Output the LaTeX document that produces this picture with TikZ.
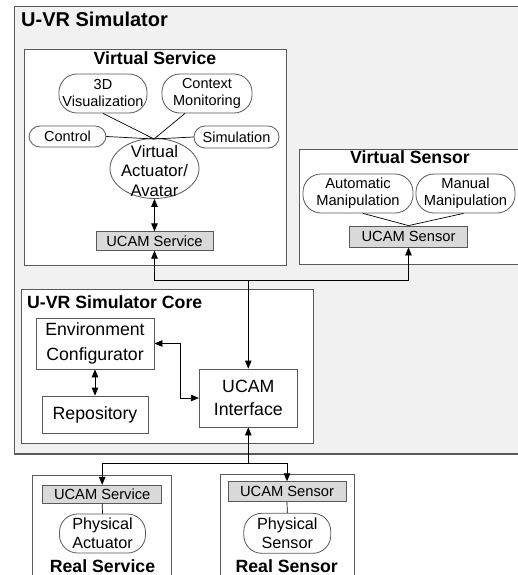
\documentclass[tikz,border=0pt]{standalone}
\usepackage{fontspec}
\setmainfont{Liberation Sans}
\usetikzlibrary{arrows.meta,shapes.geometric}
\definecolor{framec}{HTML}{595959}
\definecolor{panelbg}{HTML}{F1F1F1}
\definecolor{ucamfill}{HTML}{D9D9D9}
\begin{document}
\begin{tikzpicture}[x=1pt,y=-1pt,
  panel/.style={draw=framec, fill=white, line width=0.8pt},
  ucam/.style={draw=framec, fill=ucamfill, line width=0.8pt, inner sep=0pt,
    font=\fontsize{14.7}{17}\selectfont},
  pill/.style={draw=framec, fill=white, line width=0.8pt, inner sep=0pt,
    rounded corners=#1, align=center},
  pill/.default=18pt,
  corebox/.style={draw=framec, fill=white, line width=0.8pt, inner sep=0pt,
    align=center},
  smalltxt/.style={font=\fontsize{14.5}{17}\selectfont},
  heading/.style={font=\bfseries\fontsize{17.7}{20}\selectfont, inner sep=0pt},
  link/.style={black, line width=0.7pt},
  arr/.style={black, line width=0.8pt, -{Triangle[length=8pt,width=6.5pt]}},
  dblarr/.style={black, line width=0.8pt,
    {Triangle[length=8pt,width=6.5pt]}-{Triangle[length=8pt,width=6.5pt]}}]
\useasboundingbox (0,0) rectangle (518,575);
\clip (0,0) rectangle (518,575);

% ---------------- U-VR Simulator frame ----------------
\draw[draw=framec, fill=panelbg, line width=1.2pt] (14.5,6.5) rectangle (545,454);
\node[font=\bfseries\fontsize{20}{22}\selectfont, inner sep=0pt, anchor=base west]
  (simtitle) at (21,27) {U-VR Simulator};

% ---------------- Virtual Service ----------------
\draw[panel] (24,49) rectangle (286,265);
\node[heading, anchor=base] (vservtitle) at (155,65) {Virtual Service};
\node[pill, smalltxt, minimum width=88pt, minimum height=39pt] (vis) at (103,93.5) {3D\\Visualization};
\node[pill, smalltxt, minimum width=90pt, minimum height=39pt] (ctx) at (207,93.5) {Context\\Monitoring};
\node[pill=11pt, smalltxt, minimum width=77pt, minimum height=21pt] (ctrl) at (67.5,136.5) {Control};
\node[pill=11pt, smalltxt, minimum width=85pt, minimum height=22pt] (sim) at (236.5,137) {Simulation};
\node[ellipse, draw=framec, fill=white, line width=0.8pt, inner sep=0pt,
  minimum width=89pt, minimum height=60pt] (act) at (154.5,168.5) {};
\node[font=\fontsize{16.7}{19.5}\selectfont, align=center, inner sep=0pt]
  (acttext) at (154.5,171) {Virtual\\Actuator/\\Avatar};
\coordinate (vsj) at (154,139);
\draw[link] (vis.south) -- (vsj);
\draw[link] ([xshift=-22pt]ctx.south) -- (vsj);
\draw[link] (ctrl.east) -- (vsj);
\draw[link] (sim.west) -- (vsj);
\node[ucam, minimum width=117pt, minimum height=18.5pt] (vucams) at (154.5,241) {UCAM Service};
\draw[dblarr] (act.south) -- (vucams.north);

% ---------------- Virtual Sensor ----------------
\draw[panel] (299,149) rectangle (545,264);
\node[heading, anchor=base] (vsenstitle) at (410,163.3) {Virtual Sensor};
\node[pill, font=\fontsize{14.7}{16.7}\selectfont, minimum width=110pt, minimum height=39pt]
  (auto) at (358,193.5) {Automatic\\Manipulation};
\node[pill, font=\fontsize{14.7}{16.7}\selectfont, minimum width=99pt, minimum height=39pt]
  (manual) at (465.5,193.5) {Manual\\Manipulation};
\node[ucam, minimum width=118pt, minimum height=21pt] (vucamsen) at (408.5,236.5) {UCAM Sensor};
\draw[link] ([xshift=5pt]auto.south) -- (vucamsen.north);
\draw[link] ([xshift=-2pt]manual.south) -- (vucamsen.north);

% ---------------- U-VR Simulator Core ----------------
\draw[panel] (21,289) rectangle (313,443);
\node[heading, anchor=base west] (coretitle) at (27,308.3) {U-VR Simulator Core};
\node[corebox, font=\fontsize{17.7}{25}\selectfont, minimum width=118pt, minimum height=51pt]
  (env) at (95,343.5) {Environment\\Configurator};
\node[corebox, font=\fontsize{17.7}{21}\selectfont, minimum width=106pt, minimum height=37pt]
  (repo) at (95,414.5) {Repository};
\node[corebox, font=\fontsize{17.7}{23}\selectfont, minimum width=98pt, minimum height=58pt]
  (ui) at (248.3,398) {UCAM\\Interface};
\draw[dblarr] (env.south) -- (repo.north);
\draw[dblarr] (env.east) -- ++(26,0) |- (ui.west);

% links between the virtual side and the core
\coordinate (tophub) at (248.3,280);
\draw[arr] (tophub) -- (ui.north);
\draw[arr] (tophub) -| (vucams.south);
\draw[arr] (tophub) -| (vucamsen.south);

% ---------------- Real Service / Real Sensor ----------------
\draw[panel] (32.5,475) rectangle (171.5,590);
\draw[panel] (220,474.5) rectangle (354.5,590);
\node[ucam, minimum width=119pt, minimum height=18pt] (rucams) at (102.2,494.2) {UCAM Service};
\node[ucam, minimum width=118pt, minimum height=20pt] (rucamsen) at (287,491.7) {UCAM Sensor};
\node[pill, font=\fontsize{16.2}{19}\selectfont, minimum width=86pt, minimum height=39pt]
  (pact) at (102.5,533.5) {Physical\\Actuator};
\node[pill, font=\fontsize{16.2}{19}\selectfont, minimum width=87pt, minimum height=40pt]
  (psen) at (287.3,533.3) {Physical\\Sensor};
\draw[link] (rucams.south) -- (pact.north);
\draw[link] (rucamsen.south) -- (psen.north);
\node[heading, anchor=base] (rservtitle) at (102.5,572) {Real Service};
\node[heading, anchor=base] (rsentitle) at (286.7,572) {Real Sensor};

\coordinate (bothub) at (248.3,463.3);
\draw[arr] (bothub) -- (ui.south);
\draw[arr] (bothub) -| (rucams.north);
\draw[arr] (bothub) -| (rucamsen.north);
\end{tikzpicture}
\end{document}
